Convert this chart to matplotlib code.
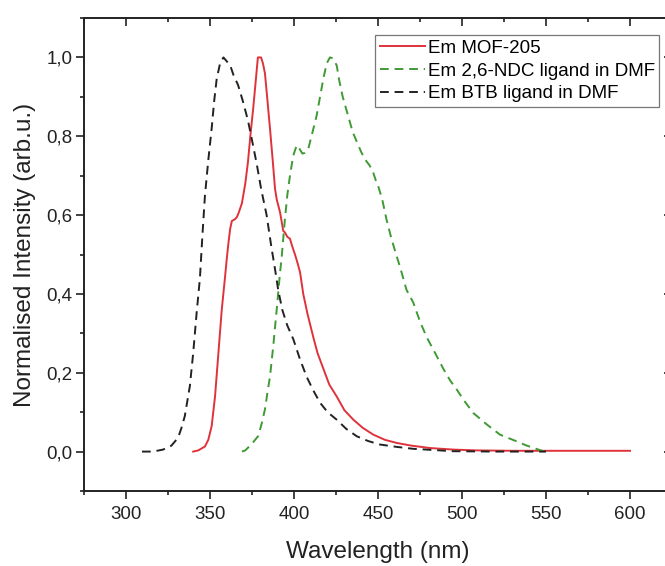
import matplotlib
matplotlib.use('Agg')
import matplotlib.pyplot as plt
from matplotlib.ticker import MultipleLocator, FuncFormatter

plt.rcParams['font.family'] = ['Liberation Sans', 'DejaVu Sans']

# Em MOF-205
mof_wl = [340, 343, 347, 349, 351, 353, 355, 357, 359, 360, 361, 362, 363, 365, 366, 367, 369, 371,
          372.6, 374, 375.7, 377, 378.5, 380.4, 381.5, 382.7, 384, 385.7, 387.5, 388.7, 389.7, 391.7,
          393.6, 394.6, 396, 397.6, 399, 400.6, 402, 403.6, 405.5, 408, 411.5, 414, 417.5, 421, 425.4,
          430, 435.3, 441, 447.2, 454, 461, 470, 481, 495, 508.7, 530, 560, 600]
mof_int = [0.0, 0.003, 0.013, 0.03, 0.065, 0.14, 0.25, 0.36, 0.445, 0.49, 0.53, 0.565, 0.585, 0.59,
           0.595, 0.605, 0.63, 0.68, 0.735, 0.80, 0.87, 0.93, 1.0, 1.0, 0.985, 0.96, 0.90, 0.82, 0.73,
           0.667, 0.64, 0.607, 0.56, 0.556, 0.545, 0.54, 0.52, 0.50, 0.48, 0.455, 0.40, 0.35, 0.29,
           0.25, 0.21, 0.17, 0.14, 0.105, 0.081, 0.06, 0.043, 0.03, 0.022, 0.015, 0.009, 0.005, 0.003,
           0.002, 0.002, 0.002]

# Em 2,6-NDC ligand in DMF
ndc_wl = [369, 371, 375, 378.8, 381, 382.7, 384.2, 385.7, 387.7, 389.7, 391.7, 392.6, 394.6, 396,
          397.6, 399.5, 401.6, 403, 405, 406.5, 408.5, 411, 413.5, 415.5, 417.5, 419.5, 421.4, 423,
          425.4, 427, 429, 432, 435, 437.5, 440, 442.5, 445, 447, 449, 450, 452.5, 455, 458, 461, 463,
          467, 471, 475, 479, 484, 488.9, 493, 496.8, 500.8, 506.7, 514.7, 522.6, 532.5, 538, 543.5, 549]
ndc_int = [0.0, 0.003, 0.02, 0.04, 0.075, 0.107, 0.15, 0.19, 0.27, 0.36, 0.455, 0.49, 0.59, 0.65,
           0.70, 0.75, 0.777, 0.77, 0.756, 0.758, 0.768, 0.81, 0.853, 0.90, 0.947, 0.985, 1.0, 0.998,
           0.98, 0.94, 0.90, 0.855, 0.81, 0.785, 0.76, 0.74, 0.726, 0.71, 0.684, 0.675, 0.64, 0.59,
           0.54, 0.497, 0.47, 0.41, 0.378, 0.33, 0.29, 0.25, 0.21, 0.18, 0.158, 0.132, 0.098, 0.069,
           0.043, 0.026, 0.016, 0.008, 0.0]

# Em BTB ligand in DMF
btb_wl = [309.5, 316, 322, 327, 331, 333, 335, 338, 340, 342, 344, 345.5, 347, 349, 351, 352.5, 354,
          356, 358, 360, 362, 364, 366.7, 369.5, 372.6, 375, 377.8, 380.5, 383.7, 386.5, 388.7, 390.6,
          393, 396, 399.6, 403.5, 407.5, 411.5, 415.5, 420, 425.4, 431, 437.3, 444, 451, 461, 471, 483,
          494.6, 520, 550]
btb_int = [0.0, 0.0, 0.005, 0.015, 0.035, 0.06, 0.09, 0.166, 0.25, 0.35, 0.44, 0.55, 0.65, 0.74,
           0.82, 0.89, 0.946, 0.985, 1.0, 0.99, 0.98, 0.955, 0.93, 0.89, 0.84, 0.79, 0.73, 0.665, 0.60,
           0.52, 0.463, 0.41, 0.36, 0.32, 0.285, 0.235, 0.19, 0.155, 0.124, 0.10, 0.081, 0.058, 0.039,
           0.027, 0.018, 0.012, 0.007, 0.004, 0.001, 0.0, 0.0]


fig = plt.figure(figsize=(6.65, 5.66), dpi=100)
ax = fig.add_axes([84/665, 75/566, 588/665, 473/566])

ax.plot(mof_wl, mof_int, color='#e0323a', lw=1.4, label='Em MOF-205')
ax.plot(ndc_wl, ndc_int, color='#3f9a35', lw=1.4, dashes=(4.5, 3), label='Em 2,6-NDC ligand in DMF')
ax.plot(btb_wl, btb_int, color='#222222', lw=1.4, dashes=(4.5, 3), label='Em BTB ligand in DMF')

ax.set_xlim(275, 625)
ax.set_ylim(-0.1, 1.1)

ax.xaxis.set_major_locator(MultipleLocator(50))
ax.xaxis.set_minor_locator(MultipleLocator(25))
ax.yaxis.set_major_locator(MultipleLocator(0.2))
ax.yaxis.set_minor_locator(MultipleLocator(0.1))
ax.yaxis.set_major_formatter(FuncFormatter(lambda v, p: ('%.1f' % v).replace('.', ',').replace('-0,0', '0,0')))

ax.tick_params(axis='both', which='major', labelsize=13.5, width=1.2, length=5.5, direction='out',
               color='#222222', labelcolor='#222222')
ax.tick_params(axis='both', which='minor', width=1.2, length=3, direction='out', color='#222222')
ax.tick_params(axis='x', which='both', pad=5)
ax.tick_params(axis='y', which='both', pad=3)
ax.tick_params(top=True, right=True, which='both')

# top/right ticks point inward
for tick in ax.xaxis.get_major_ticks() + ax.xaxis.get_minor_ticks():
    tick.tick2line.set_marker(3)
for tick in ax.yaxis.get_major_ticks() + ax.yaxis.get_minor_ticks():
    tick.tick2line.set_marker(0)

for s in ax.spines.values():
    s.set_linewidth(1.4)
    s.set_color('#222222')

ax.set_xlabel('Wavelength (nm)', fontsize=17.5, color='#222222', labelpad=13)
ax.set_ylabel('Normalised Intensity (arb.u.)', fontsize=17.5, color='#222222', labelpad=7)

leg = ax.legend(loc='upper left', bbox_to_anchor=(375/665, 1 - 35/566), bbox_transform=fig.transFigure,
                fontsize=13.5, frameon=True, fancybox=False, borderpad=0.25, labelspacing=0.3,
                handlelength=2.4, handletextpad=0.15, borderaxespad=0)
leg.get_frame().set_edgecolor('#555555')
leg.get_frame().set_linewidth(0.9)

fig.savefig('out.png', dpi=100)
